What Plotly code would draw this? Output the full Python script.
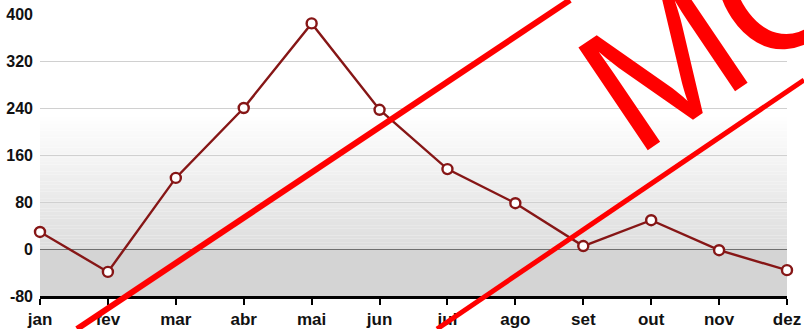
import plotly.graph_objects as go

months = ["jan", "fev", "mar", "abr", "mai", "jun", "jul", "ago", "set", "out", "nov", "dez"]
values = [29, -39, 121, 240, 384, 237, 136, 78, 5, 49, -2, -36]
y_ticks = [-80, 0, 80, 160, 240, 320, 400]
y_tick_text = ["-80", "0", "80", "160", "240", "320", "400"]

W, H = 804, 329
L, R, T, B = 40, 17, 14, 33
pw, ph = W - L - R, H - T - B

def px(x):
    return (x - L) / pw

def py(y):
    return (H - B - y) / ph

fig = go.Figure()
fig.add_trace(go.Scatter(
    x=months, y=values, mode="lines+markers",
    line=dict(color="#861616", width=2.4),
    marker=dict(symbol="circle", size=10, color="white",
                line=dict(color="#861616", width=2.4)),
    cliponaxis=False, showlegend=False,
))

shapes = []
# background below zero
shapes.append(dict(type="rect", xref="paper", yref="y", x0=0, x1=1, y0=-80, y1=0,
                   fillcolor="#d4d4d4", line_width=0, layer="below"))
# gradient above zero
n = 40
top = 230
for i in range(n):
    y0 = top * i / n
    y1 = top * (i + 1) / n
    t = i / (n - 1)
    c = int(222 + (255 - 222) * t)
    shapes.append(dict(type="rect", xref="paper", yref="y", x0=0, x1=1, y0=y0, y1=y1,
                       fillcolor=f"rgb({c},{c},{c})", line_width=0, layer="below"))

# watermark lines
shapes.append(dict(type="line", xref="paper", yref="paper",
                   x0=px(77), y0=py(329), x1=px(570), y1=py(0),
                   line=dict(color="#ff0000", width=6), layer="above"))
shapes.append(dict(type="line", xref="paper", yref="paper",
                   x0=px(437), y0=py(329), x1=px(804), y1=py(80),
                   line=dict(color="#ff0000", width=5), layer="above"))

fig.update_layout(
    width=W, height=H,
    margin=dict(l=L, r=R, t=T, b=B, autoexpand=False),
    paper_bgcolor="white", plot_bgcolor="white",
    shapes=shapes,
    font=dict(family="Liberation Sans", size=14, color="#111"),
    xaxis=dict(
        type="category", range=[0, 11], showgrid=False, zeroline=False, automargin=False,
        showline=True, linecolor="#000", linewidth=3,
        ticks="outside", ticklen=6, tickwidth=2, tickcolor="#000",
        tickfont=dict(family="Liberation Sans", size=17, color="#111", weight="bold"),
    ),
    yaxis=dict(
        range=[-80, 400], tickvals=y_ticks, ticktext=y_tick_text,
        showgrid=True, gridcolor="#d0d0d0", gridwidth=1,
        zeroline=True, zerolinecolor="#707070", zerolinewidth=1, automargin=False,
        showline=False, ticks="", ticklabelstandoff=6,
        tickfont=dict(family="Liberation Sans", size=16, color="#111", weight="bold"),
    ),
    annotations=[dict(
        text="MO", xref="paper", yref="paper", x=px(721), y=py(26),
        xanchor="center", yanchor="middle", showarrow=False, textangle=-34,
        font=dict(family="Liberation Sans", size=180, color="#ff0000"),
    )],
)

fig.write_html("out.html")
